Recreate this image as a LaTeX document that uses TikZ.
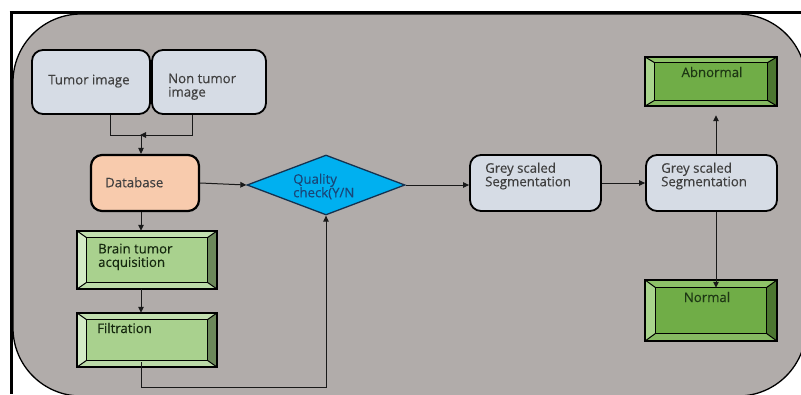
\documentclass[tikz,border=0pt]{standalone}
\usepackage{fontspec}
\setmainfont{Open Sans}
\newfontfamily\lblfont{Open Sans}[FakeBold=0.3]
\usetikzlibrary{arrows.meta,shapes.geometric,calc,fit}

\definecolor{bggray}{RGB}{177,172,170}
\definecolor{boxblue}{RGB}{214,220,229}
\definecolor{dbfill}{RGB}{248,203,173}
\definecolor{qcfill}{RGB}{0,176,240}
\definecolor{qcline}{RGB}{20,50,80}
\definecolor{txtgray}{RGB}{64,64,64}
\definecolor{txtblue}{RGB}{25,70,120}
\definecolor{txtgreen}{RGB}{30,55,20}
\definecolor{linecol}{RGB}{25,25,25}
% dark green bevel palette
\definecolor{gAbase}{RGB}{112,173,71}
\definecolor{gAtop}{RGB}{142,194,104}
\definecolor{gAleft}{RGB}{168,212,140}
\definecolor{gAright}{RGB}{76,118,48}
\definecolor{gAbot}{RGB}{134,186,98}
% light green bevel palette
\definecolor{gBbase}{RGB}{169,209,142}
\definecolor{gBtop}{RGB}{194,223,175}
\definecolor{gBleft}{RGB}{212,234,198}
\definecolor{gBright}{RGB}{108,136,90}
\definecolor{gBbot}{RGB}{188,219,168}

% bevelled button: name, x1, y1, x2, y2, inset x, inset y, palette
\newcommand\bevelbox[8]{%
  \node[fit={(#2,#3)(#4,#5)}, inner sep=0, fill=#8base] (#1) {};
  \coordinate (#1-a) at ($(#1.north west)+(#6,#7)$);
  \coordinate (#1-b) at ($(#1.north east)+(-#6,#7)$);
  \coordinate (#1-c) at ($(#1.south east)+(-#6,-#7)$);
  \coordinate (#1-d) at ($(#1.south west)+(#6,-#7)$);
  \fill[#8top] (#1.north west) -- (#1.north east) -- (#1-b) -- (#1-a) -- cycle;
  \fill[#8left] (#1.north west) -- (#1-a) -- (#1-d) -- (#1.south west) -- cycle;
  \fill[#8right] (#1.north east) -- (#1.south east) -- (#1-c) -- (#1-b) -- cycle;
  \fill[#8bot] (#1.south west) -- (#1-d) -- (#1-c) -- (#1.south east) -- cycle;
  \draw[bevelline] (#1-a) rectangle (#1-c);
  \draw[bevelline] (#1.north west) -- (#1-a) (#1.north east) -- (#1-b)
                   (#1.south east) -- (#1-c) (#1.south west) -- (#1-d);
  \draw[bevelline, line width=1.6pt] (#1.north west) rectangle (#1.south east);
}

\begin{document}
\begin{tikzpicture}[x=1pt, y=-1pt,
  lbl/.style={font=\lblfont\fontsize{13.2}{13.5}\selectfont, text=txtgray, inner sep=0, align=left},
  softbox/.style={draw=black, line width=1.8pt, rounded corners=11pt, inner sep=0},
  bevelline/.style={draw=black, line width=1pt},
  conn/.style={draw=linecol, line width=1pt},
  arr/.style={conn, -{Triangle[length=6pt,width=5.5pt]}}]

\useasboundingbox (0,0) rectangle (801,394);
\clip (0,0) rectangle (801,394);
\fill[white] (0,0) rectangle (801,394);

% panel and frame
\draw[line width=1.3pt, fill=bggray, rounded corners=68pt] (13,14) rectangle (806,396);
\draw[line width=3pt] (9.5,12.5) -- (801,12.5);
\draw[line width=3pt] (11,11) -- (11,394);

% input images
\node[softbox, fill=boxblue, minimum width=118pt, minimum height=64pt] (tumor) at (91,82) {};
\node[softbox, fill=boxblue, minimum width=114pt, minimum height=64pt] (ntumor) at (209,82) {};
\node[lbl, anchor=north west] (tumortxt) at (48,74.5) {Tumor image};
\node[lbl, anchor=north west] (ntumortxt) at (168,73.5) {Non tumor\\image};

% database
\node[softbox, fill=dbfill, line width=2.2pt, minimum width=108pt, minimum height=56pt] (db) at (145,183) {};
\node[lbl, anchor=north west] (dbtxt) at (105,177) {Database};

% quality check
\node[diamond, draw=qcline, line width=1.3pt, fill=qcfill, inner sep=0,
      minimum width=158pt, minimum height=60pt] (qc) at (326,185) {};
\node[lbl, text=txtblue, anchor=north west] (qctxt) at (293,173.5) {Quality\\check(Y/N};

% segmentation stages
\node[softbox, fill=boxblue, minimum width=131pt, minimum height=56pt] (gs1) at (535.5,183) {};
\node[softbox, fill=boxblue, minimum width=131pt, minimum height=56pt] (gs2) at (711.5,183) {};
\node[lbl, anchor=north west] (gs1txt) at (485,162.5) {Grey scaled\\Segmentation};
\node[lbl, anchor=north west] (gs2txt) at (661,162.5) {Grey scaled\\Segmentation};

% outcomes
\bevelbox{abn}{645}{57}{777}{106}{10}{6}{gA}
\bevelbox{nrm}{645}{280}{777}{341}{11}{8}{gA}
\node[lbl, text=txtgreen, anchor=base] (abntxt) at (712,77) {Abnormal};
\node[lbl, text=txtgreen, anchor=base] (nrmtxt) at (707,302) {Normal};

% preprocessing
\bevelbox{bta}{77}{231}{217}{289}{10}{7}{gB}
\bevelbox{filt}{77}{313}{217}{367}{10}{7}{gB}
\node[lbl, text=txtgreen!70!black, anchor=north west] (btatxt) at (98,243.5) {Brain tumor\\acquisition};
\node[lbl, text=txtgreen!70!black, anchor=base west] (filttxt) at (97,333) {Filtration};

% connectors
\coordinate (jn) at (141,135);
\draw[conn] ([xshift=19pt]tumor.south) |- (jn);
\draw[arr] ([xshift=-17pt]ntumor.south) |- ([xshift=-1pt]jn);
\draw[arr] (jn) -- (jn |- db.north);
\draw[arr] (db.east) -- (qc.west);
\draw[arr] (qc.east) -- (qc.east -| gs1.west);
\draw[arr] (gs1.east) -- (gs2.west);
\draw[arr, shorten >=9pt] ([xshift=4.5pt]gs2.north) -- ([xshift=4.5pt]gs2.north |- abn.south);
\draw[arr] ([xshift=4.5pt]gs2.south) -- ([xshift=4.5pt]gs2.south |- nrm-a);
\draw[arr] (db.south -| jn) -- (bta.north -| jn);
\draw[arr] (bta.south -| jn) -- (filt.north -| jn);
\draw[arr] ($(filt.south -| jn)+(0,-5)$) -- ++(0,25) -| (qc.south);

\end{tikzpicture}
\end{document}
